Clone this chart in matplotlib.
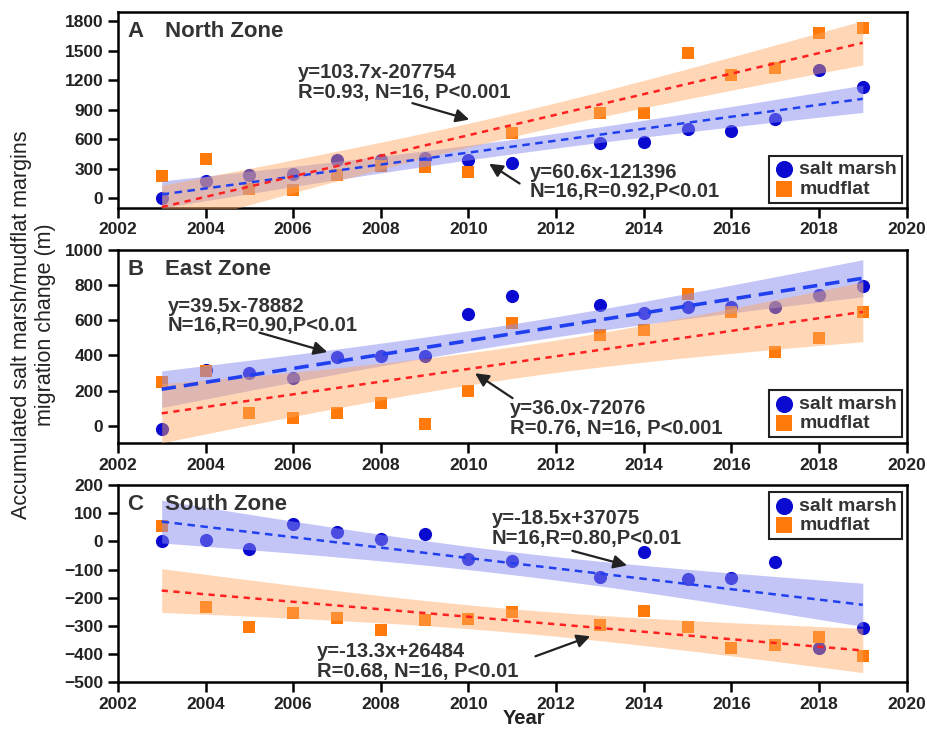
import numpy as np
import matplotlib as mp
mp.use('Agg')
import matplotlib.pyplot as plt

plt.rcParams['font.family'] = ['Liberation Sans', 'DejaVu Sans']

years = [2003, 2004, 2005, 2006, 2007, 2008, 2009, 2010, 2011,
         2013, 2014, 2015, 2016, 2017, 2018, 2019]

north_marsh = [0, 173, 234, 244, 386, 386, 406, 386, 355, 558, 569, 701, 680, 802, 1310, 1127]
north_mud = [223, 396, 91, 81, 234, 325, 315, 264, 660, 863, 863, 1482, 1259, 1330, 1685, 1736]
east_marsh = [-17, 318, 301, 273, 392, 398, 398, 636, 739, 688, 642, 676, 676, 676, 744, 795]
east_mud = [250, 313, 74, 45, 74, 131, 11, 199, 585, 517, 545, 750, 648, 420, 500, 648]
south_marsh = [0, 4, -28, 61, 33, 8, 26, -63, -70, -127, -38, -135, -131, -74, -380, -309]
south_mud = [54, -234, -305, -256, -273, -316, -280, -277, -252, -298, -248, -305, -380, -369, -341, -409]

panel_letters = ['A', 'B', 'C']
zone_names = ['North Zone', 'East Zone', 'South Zone']
marsh_eq = ['y=60.6x-121396\nN=16,R=0.92,P<0.01',
            'y=39.5x-78882\nN=16,R=0.90,P<0.01',
            'y=-18.5x+37075\nN=16,R=0.80,P<0.01']
mud_eq = ['y=103.7x-207754\nR=0.93, N=16, P<0.001',
          'y=36.0x-72076\nR=0.76, N=16, P<0.001',
          'y=-13.3x+26484\nR=0.68, N=16, P<0.01']
ylims = [(-100, 1900), (-100, 1000), (-500, 200)]
yticks = [np.arange(0, 1801, 300), np.arange(0, 1001, 200), np.arange(-500, 201, 100)]

# text anchor (left, center) and arrow tail/head, in data coords
mud_txt = [(2006.1, 1178), (2010.94, 40), (2006.54, -426)]
mud_arrow = [((2008.66, 975), (2010.08, 792)),
             ((2011.06, 148), (2010.10, 307)),
             ((2011.47, -412), (2012.84, -334))]
marsh_txt = [(2011.40, 162), (2003.14, 625), (2010.53, 47)]
marsh_arrow = [((2011.22, 132), (2010.42, 365)),
               ((2005.17, 534), (2006.84, 415)),
               ((2012.31, -31), (2013.68, -88))]

axes_pos = [[0.127, 0.715, 0.850, 0.269],
            [0.127, 0.392, 0.850, 0.265],
            [0.127, 0.0645, 0.850, 0.270]]
legend_loc = ['lower right', 'lower right', 'upper right']
legend_anchor = [(0.994, 0.026), (0.994, 0.031), (0.994, 0.964)]

TXT = '#333333'


def fit_band(ax, x, y, line_color, fill_color, fill_alpha, dash, lw):
    x = np.asarray(x, float)
    y = np.asarray(y, float)
    k, b = np.polyfit(x, y, 1)
    n = len(x)
    resid = y - (k * x + b)
    s = np.sqrt(np.sum(resid ** 2) / (n - 2))
    sxx = np.sum((x - x.mean()) ** 2)
    xs = np.linspace(x.min(), x.max(), 200)
    fit = k * xs + b
    ci = 2.145 * s * np.sqrt(1.0 / n + (xs - x.mean()) ** 2 / sxx)
    ax.fill_between(xs, fit - ci, fit + ci, color=fill_color, alpha=fill_alpha,
                    lw=0, zorder=3)
    ax.plot(xs, fit, ls=(0, dash), color=line_color, lw=lw, zorder=4)


fig = plt.figure(figsize=(9.28, 7.29), dpi=100)
data = [(north_marsh, north_mud), (east_marsh, east_mud), (south_marsh, south_mud)]

for i, (marsh, mud) in enumerate(data):
    ax = fig.add_axes(axes_pos[i])
    ax.scatter(years, marsh, s=90, marker='o', color='#0a0ad0', lw=0, zorder=2,
               label='salt marsh')
    ax.scatter(years, mud, s=85, marker='s', color='#ff7a0a', lw=0, zorder=2,
               label='mudflat')
    blue_dash = (3, 2.2) if i != 1 else (4, 2.2)
    blue_lw = 1.8 if i != 1 else 2.6
    fit_band(ax, years, marsh, '#2040f0', '#8a8cf0', 0.5, blue_dash, blue_lw)
    fit_band(ax, years, mud, '#ff2020', '#ffa860', 0.45, (2.5, 2.2), 1.8)

    ax.set_xlim(2002, 2020)
    ax.set_ylim(*ylims[i])
    ax.set_xticks(np.arange(2002, 2021, 2))
    ax.set_yticks(yticks[i])
    ax.tick_params(direction='out', length=7, width=1.8, labelsize=12.5)
    ax.tick_params(top=False, right=False)
    for lab in ax.get_xticklabels() + ax.get_yticklabels():
        lab.set_fontweight('bold')
        lab.set_color('#222222')
    for sp in ax.spines.values():
        sp.set_linewidth(1.8)

    ax.text(0.012, 0.90, panel_letters[i], transform=ax.transAxes, fontsize=16,
            fontweight='bold', color=TXT, va='center', ha='left')
    ax.text(0.060, 0.90, zone_names[i], transform=ax.transAxes, fontsize=16,
            fontweight='bold', color=TXT, va='center', ha='left')

    ax.text(*mud_txt[i], mud_eq[i], fontsize=14.5, fontweight='bold', color=TXT,
            ha='left', va='center', linespacing=1.05, zorder=6)
    ax.annotate('', xy=mud_arrow[i][1], xytext=mud_arrow[i][0],
                arrowprops=dict(arrowstyle='-|>', color='#222222', lw=1.6,
                                mutation_scale=20), zorder=6)
    ax.text(*marsh_txt[i], marsh_eq[i], fontsize=14.5, fontweight='bold', color=TXT,
            ha='left', va='center', linespacing=1.05, zorder=6)
    ax.annotate('', xy=marsh_arrow[i][1], xytext=marsh_arrow[i][0],
                arrowprops=dict(arrowstyle='-|>', color='#222222', lw=1.6,
                                mutation_scale=20), zorder=6)

    leg = ax.legend(loc=legend_loc[i], bbox_to_anchor=legend_anchor[i],
                    borderaxespad=0, fancybox=False, framealpha=1,
                    edgecolor='#222222', handletextpad=0.3, handlelength=1.0,
                    labelspacing=0.1, borderpad=0.25, markerscale=1.3,
                    prop={'size': 14, 'weight': 'bold'})
    leg.get_frame().set_linewidth(1.5)
    for t in leg.get_texts():
        t.set_color(TXT)

fig.text(0.036, 0.555, 'Accumulated salt marsh/mudflat margins\nmigration change (m)',
         rotation=90, ha='center', va='center', fontsize=15.5, color='#222222',
         linespacing=1.15)
fig.text(0.565, 0.015, 'Year', ha='center', va='center', fontsize=14.5,
         fontweight='bold', color='#222222')

plt.savefig('out.png', dpi=100)
